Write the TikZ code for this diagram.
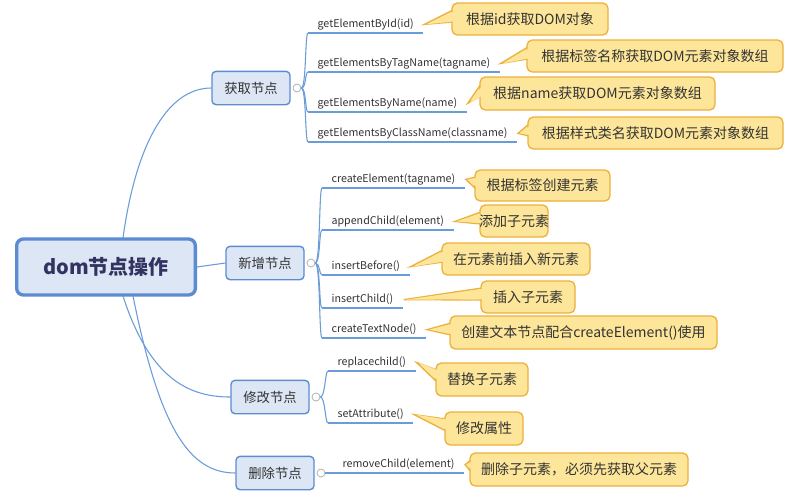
\documentclass[tikz,border=0pt]{standalone}
\usepackage{fontspec}
\setmainfont{Noto Sans CJK SC}
\usetikzlibrary{calc}
\definecolor{lb}{HTML}{6A9BDA}
\definecolor{bfill}{HTML}{DCE6F4}
\definecolor{bline}{HTML}{5B8BD0}
\definecolor{cfill}{HTML}{FDE699}
\definecolor{cline}{HTML}{EDB13E}
\definecolor{tx}{HTML}{333333}
\tikzset{
  conn/.style={draw=lb,line width=0.8pt},
  uline/.style={draw=lb,line width=1.3pt},
  lvl/.style={draw=bline,fill=bfill,line width=1pt,rounded corners=3pt,minimum width=58.5pt,minimum height=25pt,font=\fontsize{10}{12}\selectfont,text=tx},
  root/.style={draw=bline,fill=bfill,line width=2.5pt,rounded corners=5pt,minimum width=134pt,minimum height=42pt,font=\fontsize{15}{18}\selectfont\bfseries,text=black!70!blue!60!gray},
  leaf/.style={font=\fontsize{8}{10}\selectfont,text=tx,inner xsep=7pt,inner ysep=2pt},
  ctext/.style={font=\fontsize{10.5}{12}\selectfont,text=tx},
  knob/.style={circle,draw=gray!70,fill=white,inner sep=0pt,minimum size=6pt,line width=0.5pt}
}
\newcommand\mycallout[6]{%
  \draw[cline,fill=cfill,line width=1pt] ($(#1.east)+(1,0)$) -- (#2+1,#3+7) -- (#2+1,#3+19) -- cycle;
  \draw[cline,fill=cfill,line width=1pt,rounded corners=4pt] (#2,#3) rectangle (#4,#5);
  \fill[cfill] ($(#1.east)+(3,0)$) -- (#2+3,#3+7.8) -- (#2+3,#3+18.2) -- cycle;
  \node[ctext] (#1c) at ({(#2+#4)/2},{(#3+#5)/2}) {#6};}
\newcommand\myleaf[5]{% name, knob, x, underline y, text
  \node[leaf,anchor=south west] (#1) at (#3,#4) {#5};
  \draw[uline] (#1.south west) -- (#1.south east);
  \draw[conn] (#2.east) .. controls ($(#2.east)+(5,0)$) and (#3-3,#4) .. (#1.south west);}
\begin{document}
\begin{tikzpicture}[x=0.75pt,y=-0.75pt]
\useasboundingbox[fill=white] (0,0) rectangle (800,494);
\node[root] (r) at (106,267) {dom节点操作};
\node[lvl] (a) at (251,88) {获取节点};
\node[lvl] (b) at (265,263) {新增节点};
\node[lvl] (c) at (270,397) {修改节点};
\node[lvl] (d) at (275,473) {删除节点};
\draw[conn] (123,238) .. controls (135,150) and (165,88) .. (a.west);
\draw[conn] (r.east) -- (b.west);
\draw[conn] (123,296) .. controls (150,380) and (190,397) .. (c.west);
\draw[conn] (133,296) .. controls (160,430) and (190,473) .. (d.west);
\node[knob] (ka) at (297,88) {};
\node[knob] (kb) at (311,263) {};
\node[knob] (kc) at (316,397) {};
\node[knob] (kd) at (321,473) {};
\myleaf{a1}{ka}{308}{33}{getElementById(id)}
\myleaf{a2}{ka}{308}{72}{getElementsByTagName(tagname)}
\myleaf{a3}{ka}{308}{112}{getElementsByName(name)}
\myleaf{a4}{ka}{308}{142}{getElementsByClassName(classname)}
\myleaf{b1}{kb}{322}{188}{createElement(tagname)}
\myleaf{b2}{kb}{322}{230}{appendChild(element)}
\myleaf{b3}{kb}{322}{275}{insertBefore()}
\myleaf{b4}{kb}{322}{308}{insertChild()}
\myleaf{b5}{kb}{322}{338}{createTextNode()}
\myleaf{c1}{kc}{328}{371}{replacechild()}
\myleaf{c2}{kc}{328}{423}{setAttribute()}
\myleaf{d1}{kd}{333}{473}{removeChild(element)}
\mycallout{a1}{452}{3}{608}{35}{根据id获取DOM对象}
\mycallout{a2}{527}{40}{783}{72}{根据标签名称获取DOM元素对象数组}
\mycallout{a3}{480}{77}{715}{110}{根据name获取DOM元素对象数组}
\mycallout{a4}{528}{117}{783}{149}{根据样式类名获取DOM元素对象数组}
\mycallout{b1}{475}{170}{610}{201}{根据标签创建元素}
\mycallout{b2}{480}{205}{548}{237}{添加子元素}
\mycallout{b3}{442}{243}{590}{275}{在元素前插入新元素}
\mycallout{b4}{481}{281}{575}{313}{插入子元素}
\mycallout{b5}{450}{316}{717}{349}{创建文本节点配合createElement()使用}
\mycallout{c1}{436}{363}{528}{396}{替换子元素}
\mycallout{c2}{445}{412}{523}{445}{修改属性}
\mycallout{d1}{470}{453}{688}{486}{删除子元素，必须先获取父元素}
\end{tikzpicture}
\end{document}
